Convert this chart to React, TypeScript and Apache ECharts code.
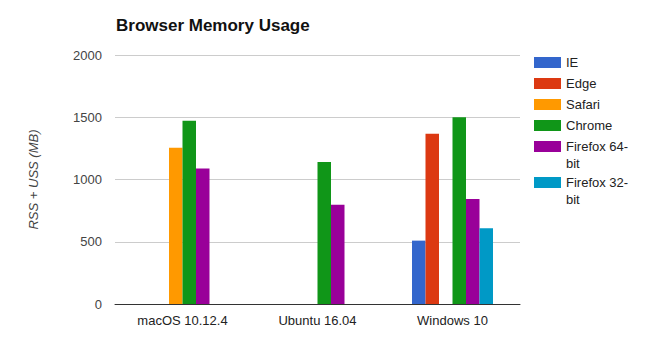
import React, { useEffect, useRef } from "react";
import * as echarts from "echarts";

const categories = ["macOS 10.12.4", "Ubuntu 16.04", "Windows 10"];
const seriesNames = ["IE", "Edge", "Safari", "Chrome", "Firefox 64-bit", "Firefox 32-bit"];
const legendLabels: Record<string, string> = {
  IE: "IE",
  Edge: "Edge",
  Safari: "Safari",
  Chrome: "Chrome",
  "Firefox 64-bit": "Firefox 64-\nbit",
  "Firefox 32-bit": "Firefox 32-\nbit",
};
const ieValues = [null, null, 509];
const edgeValues = [null, null, 1368];
const safariValues = [1255, null, null];
const chromeValues = [1472, 1141, 1499];
const firefox64Values = [1088, 797, 843];
const firefox32Values = [null, null, 608];
const colors = ["#3366cc", "#dc3912", "#ff9900", "#109618", "#990099", "#0099c6"];
const yTicks = [0, 500, 1000, 1500, 2000];

const FONT = "'Liberation Sans', Arial, sans-serif";

export default function App() {
  const ref = useRef<HTMLDivElement>(null);
  useEffect(() => {
    if (!ref.current) return;
    const chart = echarts.init(ref.current, undefined, { renderer: "svg" });
    const allValues = [ieValues, edgeValues, safariValues, chromeValues, firefox64Values, firefox32Values];
    chart.setOption({
      animation: false,
      backgroundColor: "#ffffff",
      textStyle: { fontFamily: FONT },
      title: {
        text: "Browser Memory Usage",
        left: 116,
        top: 17,
        padding: 0,
        textStyle: { fontFamily: FONT, fontSize: 17, fontWeight: "bold", color: "#111" },
      },
      legend: {
        orient: "vertical",
        left: 534,
        top: 54,
        padding: 0,
        icon: "rect",
        itemWidth: 27,
        itemHeight: 11,
        itemGap: 4,
        formatter: (name: string) => legendLabels[name] ?? name,
        textStyle: { fontFamily: FONT, fontSize: 13, lineHeight: 17, color: "#222", rich: { a: {} } },
        data: seriesNames.map((n) =>
          n.startsWith("Firefox")
            ? { name: n, textStyle: { padding: [0, 0, -17, 0] } }
            : { name: n }
        ),
      },
      grid: { left: 115, right: 131, top: 55, bottom: 50, containLabel: false },
      xAxis: {
        type: "category",
        data: categories,
        axisLine: { show: true, lineStyle: { color: "#333", width: 1 } },
        axisTick: { show: false },
        axisLabel: { fontFamily: FONT, fontSize: 13, color: "#222", margin: 10 },
      },
      yAxis: {
        type: "value",
        min: yTicks[0],
        max: yTicks[yTicks.length - 1],
        interval: 500,
        name: "RSS + USS (MB)",
        nameLocation: "middle",
        nameRotate: 90,
        nameGap: 75,
        nameTextStyle: { fontFamily: FONT, fontSize: 13, fontStyle: "italic", color: "#444" },
        axisLine: { show: false },
        axisTick: { show: false },
        axisLabel: {
          fontFamily: FONT,
          fontSize: 13,
          color: "#444",
          margin: 13,
          formatter: (v: number) => String(v),
        },
        splitLine: { lineStyle: { color: "#cccccc", width: 1 } },
      },
      series: seriesNames.map((name, i) => ({
        name,
        type: "bar",
        data: allValues[i],
        barGap: "0%",
        barCategoryGap: "40%",
        itemStyle: { color: colors[i] },
      })),
    });
    return () => chart.dispose();
  }, []);
  return <div ref={ref} style={{ width: 651, height: 354, margin: -8 }} />;
}
